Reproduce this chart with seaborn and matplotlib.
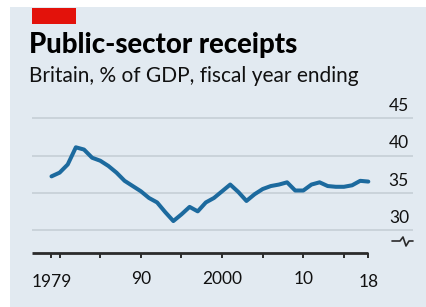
import matplotlib
matplotlib.use("Agg")
import matplotlib.pyplot as plt
import matplotlib.transforms as mtransforms
from matplotlib.lines import Line2D
from matplotlib.patches import Rectangle
import seaborn as sns
import pandas as pd

years = list(range(1979, 2019))
receipts = [37.2, 37.7, 38.8, 41.1, 40.8, 39.7, 39.3, 38.6, 37.7, 36.6,
            35.9, 35.2, 34.3, 33.7, 32.4, 31.2, 32.1, 33.1, 32.5, 33.7,
            34.3, 35.2, 36.1, 35.1, 33.9, 34.8, 35.5, 35.9, 36.1, 36.4,
            35.3, 35.3, 36.1, 36.4, 35.9, 35.8, 35.8, 36.0, 36.6, 36.5]
y_ticks = [30, 35, 40, 45]
x_ticks = [1979, 1980, 1985, 1990, 1995, 2000, 2005, 2010, 2015, 2018]
x_labels = ["1979", "", "", "90", "", "2000", "", "10", "", "18"]
x_tick_len = [6, 9, 6, 9, 6, 9, 6, 9, 6, 6]

title = "Public-sector receipts"
subtitle = "Britain, % of GDP, fiscal year ending"

df = pd.DataFrame({"year": years, "receipts": receipts})

sns.set_style("white")
plt.rcParams["font.family"] = ["Lato", "DejaVu Sans"]

BG = "#e2eaf1"
LINE = "#1c6a9e"
DARK = "#2b2b2b"
GRID = "#c3ccd4"

fig = plt.figure(figsize=(4.27, 3.07), dpi=100, facecolor="white")
W, H = 427, 307
fig.patches.append(Rectangle((10 / W, 0), 1 - 10 / W, 1 - 7 / H, transform=fig.transFigure,
                             facecolor=BG, edgecolor="none", zorder=-2))
fig.patches.append(Rectangle((32 / W, 1 - 24 / H), 44 / W, 16 / H, transform=fig.transFigure,
                             facecolor="#e3120b", edgecolor="none", zorder=-1))

fig.text(29 / W, 1 - 53 / H, title, fontsize=19.8, fontweight="black", color="black",
         ha="left", va="baseline")
fig.text(29 / W, 1 - 82 / H, subtitle, fontsize=15, color="#111111",
         ha="left", va="baseline")

left, right = 32 / W, 413 / W
top_px = 107.1
ax = fig.add_axes([left, (H - 253) / H, right - left, (253 - top_px) / H])
ax.set_facecolor("none")
ax.set_zorder(2)

sns.lineplot(data=df, x="year", y="receipts", ax=ax, color=LINE, linewidth=2.9,
             solid_capstyle="round", solid_joinstyle="round", zorder=3)

x_lo, x_hi, x_end = 1976.6, 2023.5, 2018
ax.set_xlim(x_lo, x_hi)
ax.set_ylim(26.91, 46.5)
ax.set_xlabel("")
ax.set_ylabel("")

for s in ["left", "right", "top", "bottom"]:
    ax.spines[s].set_visible(False)

ax.set_yticks(y_ticks)
ax.set_yticklabels([])
ax.tick_params(axis="y", length=0, left=False)
ax.grid(axis="y", color=GRID, linewidth=1.1)
ax.grid(axis="x", visible=False)
ax.set_axisbelow(True)

offset = mtransforms.ScaledTranslation(0, 3 / 72, fig.dpi_scale_trans)
trans = mtransforms.blended_transform_factory(ax.transAxes, ax.transData) + offset
for v in y_ticks:
    ax.text((409 - 32) / 381, v, str(v), transform=trans, ha="right", va="bottom",
            fontsize=12.5, color="#111111")

ax.set_xticks(x_ticks)
ax.set_xticklabels(x_labels)
ax.tick_params(axis="x", bottom=True, direction="out", color=DARK, width=1.4,
               labelsize=12.5, labelcolor="#111111", pad=4)
for t, ln in zip(ax.xaxis.get_major_ticks(), x_tick_len):
    t.tick1line.set_visible(True)
    t.tick1line.set_markersize(ln * 0.72)
    t.set_pad(12 - ln * 0.72 + 4)

# baseline (x axis line) from the left edge to the last year, drawn on the figure
base_y = (H - 252.5) / H
base_x1 = left + (x_end - x_lo) / (x_hi - x_lo) * (right - left)
fig.add_artist(Line2D([left, base_x1], [base_y, base_y], transform=fig.transFigure,
                      color=DARK, linewidth=2.0, zorder=10, solid_capstyle="butt"))

# axis break symbol
bx = [(392 - 32) / 381, (400 - 32) / 381, (403 - 32) / 381, (406 - 32) / 381, (409 - 32) / 381, (413 - 32) / 381]
by = [241, 241, 237, 246, 241, 241]
by = [(253 - v) / (253 - top_px) for v in by]
ax.add_line(Line2D(bx, by, transform=ax.transAxes, color=DARK, linewidth=1.2, clip_on=False))

fig.savefig("out.png", dpi=100, facecolor=fig.get_facecolor())
